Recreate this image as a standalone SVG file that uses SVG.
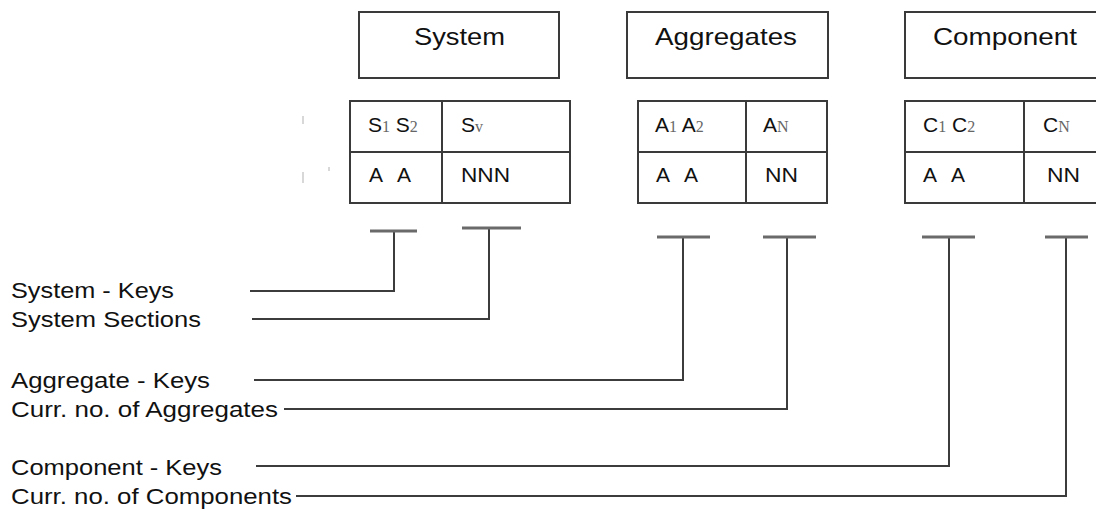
<svg xmlns="http://www.w3.org/2000/svg" width="1096" height="513" viewBox="0 0 1096 513">
  <style>
    .box { fill: #fff; stroke: #3a3a3a; stroke-width: 2; }
    .grid { stroke: #3a3a3a; stroke-width: 2; fill: none; }
    .title { font-family: "Liberation Sans", Arial, sans-serif; font-size: 24px; fill: #111; }
    .cell { font-family: "Liberation Sans", Arial, sans-serif; font-size: 21px; fill: #111; }
    .sub { font-family: "Liberation Serif", "Times New Roman", serif; font-size: 16px; fill: #666; }
    .label { font-family: "Liberation Sans", Arial, sans-serif; font-size: 22px; fill: #111; }
    .wire { stroke: #3c3c3c; stroke-width: 2; fill: none; }
    .bar { stroke: #6a6a6a; stroke-width: 3; fill: none; }
    .speck { stroke: #d8d8d8; stroke-width: 2; }
  </style>

  <rect width="1096" height="513" fill="#fff"/>

  <!-- faint marks left of the system table -->
  <g id="marks">
    <line class="speck" x1="303" y1="116" x2="303" y2="124"/>
    <line class="speck" x1="303" y1="172" x2="303" y2="183"/>
    <line class="speck" x1="329" y1="167" x2="329" y2="171"/>
  </g>

  <!-- System -->
  <g id="system">
    <rect class="box" x="359" y="12" width="200" height="66"/>
    <text class="title" x="414" y="45" textLength="91" lengthAdjust="spacingAndGlyphs">System</text>
    <rect class="box" x="350" y="101" width="220" height="102"/>
    <line class="grid" x1="350" y1="152" x2="570" y2="152"/>
    <line class="grid" x1="442" y1="101" x2="442" y2="203"/>
    <text class="cell" x="368" y="132">S<tspan class="sub">1</tspan> S<tspan class="sub">2</tspan></text>
    <text class="cell" x="461" y="132">S<tspan class="sub">v</tspan></text>
    <text class="cell" y="182"><tspan x="369">A</tspan><tspan x="397">A</tspan></text>
    <text class="cell" x="461" y="182" textLength="49" lengthAdjust="spacingAndGlyphs">NNN</text>
  </g>

  <!-- Aggregates -->
  <g id="aggregates">
    <rect class="box" x="627" y="12" width="201" height="66"/>
    <text class="title" x="655" y="45" textLength="142" lengthAdjust="spacingAndGlyphs">Aggregates</text>
    <rect class="box" x="638" y="101" width="189" height="102"/>
    <line class="grid" x1="638" y1="152" x2="827" y2="152"/>
    <line class="grid" x1="746" y1="101" x2="746" y2="203"/>
    <text class="cell" x="655" y="132">A<tspan class="sub">1</tspan> A<tspan class="sub">2</tspan></text>
    <text class="cell" x="763" y="132">A<tspan class="sub">N</tspan></text>
    <text class="cell" y="182"><tspan x="656">A</tspan><tspan x="684">A</tspan></text>
    <text class="cell" x="765" y="182" textLength="33" lengthAdjust="spacingAndGlyphs">NN</text>
  </g>

  <!-- Component -->
  <g id="component">
    <rect class="box" x="905" y="12" width="200" height="66"/>
    <text class="title" x="933" y="45" textLength="144" lengthAdjust="spacingAndGlyphs">Component</text>
    <rect class="box" x="905" y="101" width="200" height="102"/>
    <line class="grid" x1="905" y1="152" x2="1105" y2="152"/>
    <line class="grid" x1="1024" y1="101" x2="1024" y2="203"/>
    <text class="cell" x="923" y="132">C<tspan class="sub">1</tspan> C<tspan class="sub">2</tspan></text>
    <text class="cell" x="1043" y="132">C<tspan class="sub">N</tspan></text>
    <text class="cell" y="182"><tspan x="923">A</tspan><tspan x="951">A</tspan></text>
    <text class="cell" x="1047" y="182" textLength="33" lengthAdjust="spacingAndGlyphs">NN</text>
  </g>

  <!-- Legend labels -->
  <g id="labels">
    <text class="label" x="11" y="298" textLength="163" lengthAdjust="spacingAndGlyphs">System - Keys</text>
    <text class="label" x="11" y="327" textLength="190" lengthAdjust="spacingAndGlyphs">System Sections</text>
    <text class="label" x="11" y="388" textLength="199" lengthAdjust="spacingAndGlyphs">Aggregate - Keys</text>
    <text class="label" x="11" y="417" textLength="267" lengthAdjust="spacingAndGlyphs">Curr. no. of Aggregates</text>
    <text class="label" x="11" y="475" textLength="211" lengthAdjust="spacingAndGlyphs">Component - Keys</text>
    <text class="label" x="11" y="504" textLength="281" lengthAdjust="spacingAndGlyphs">Curr. no. of Components</text>
  </g>

  <!-- Connectors: label leader up to a T-bar under each column -->
  <g id="connectors">
    <polyline class="wire" points="250,291 394,291 394,231"/>
    <line class="bar" x1="370" y1="231" x2="417" y2="231"/>

    <polyline class="wire" points="252,319 489,319 489,228"/>
    <line class="bar" x1="462" y1="228" x2="521" y2="228"/>

    <polyline class="wire" points="254,380 683,380 683,237"/>
    <line class="bar" x1="657" y1="237" x2="710" y2="237"/>

    <polyline class="wire" points="284,409 787,409 787,237"/>
    <line class="bar" x1="763" y1="237" x2="816" y2="237"/>

    <polyline class="wire" points="256,466 949,466 949,237"/>
    <line class="bar" x1="922" y1="237" x2="975" y2="237"/>

    <polyline class="wire" points="296,496 1066,496 1066,237"/>
    <line class="bar" x1="1045" y1="237" x2="1088" y2="237"/>
  </g>
</svg>
